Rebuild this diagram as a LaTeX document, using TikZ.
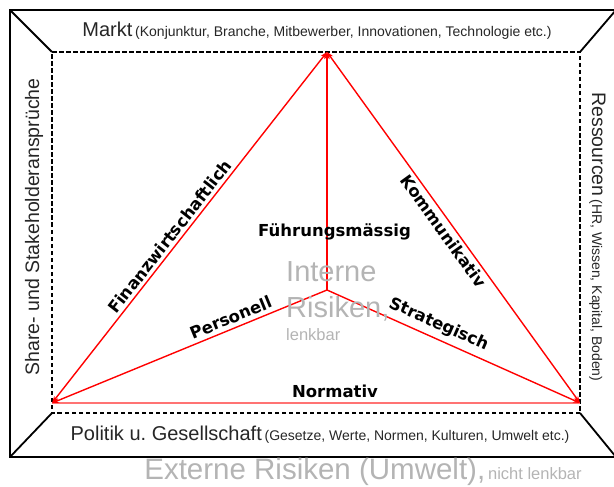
\documentclass[tikz,border=0pt]{standalone}
\usepackage{fontspec}
\setmainfont{Liberation Sans}
\newfontfamily\labfont{DejaVu Sans}
\usetikzlibrary{arrows.meta}
\definecolor{softgray}{RGB}{180,180,180}
\frenchspacing
\begin{document}
\begin{tikzpicture}[x=1pt,y=-1pt,
  frame/.style={line width=1.8pt, black},
  inner/.style={line width=1.4pt, black, dash pattern=on 4.5pt off 2.5pt},
  redline/.style={line width=1.4pt, red},
  normline/.style={line width=1.3pt, red!55},
  tip/.style={-{Stealth[length=7pt,width=5pt]}},
  lab/.style={font=\labfont\bfseries\fontsize{16.5}{18}\selectfont, inner sep=1pt, text=black},
  sidetxt/.style={text=black!85, inner sep=0pt},
]
\useasboundingbox (0,0) rectangle (614,487);
% outer frame corners
\coordinate (O1) at (10,10);
\coordinate (O2) at (616,10);
\coordinate (O3) at (616,457);
\coordinate (O4) at (10,457);
% inner dashed frame corners
\coordinate (I1) at (52,52);
\coordinate (I2) at (580,52);
\coordinate (I3) at (580,413);
\coordinate (I4) at (52,413);
\draw[frame] (O1) -- (O2) -- (O3) -- (O4) -- cycle;
\draw[frame] (O1) -- (I1);
\draw[frame] (O2) -- (I2);
\draw[frame] (O3) -- (I3);
\draw[frame] (O4) -- (I4);
\draw[inner] (I1) -- (I2) -- (I3) -- (I4) -- cycle;

% triangle
\coordinate (T) at (327,52);
\coordinate (BL) at (52,403);
\coordinate (BR) at (580,403);
\coordinate (C) at (327,290);

\draw[normline] (BL) -- (BR);
\draw[redline, {Stealth[length=7pt,width=5pt]}-{Stealth[length=7pt,width=5pt]}] (BL) -- node[lab, sloped, above=2pt, pos=0.457] (fin) {Finanzwirtschaftlich} (T);
\draw[redline, {Stealth[length=7pt,width=5pt]}-{Stealth[length=7pt,width=5pt]}] (BR) -- node[lab, sloped, below=2pt, pos=0.506] (kom) {Kommunikativ} (T);
\draw[redline, tip] (C) -- (T);
\draw[redline, {Stealth[length=7pt,width=5pt]}-] (BL) -- node[lab, sloped, above=3pt, pos=0.665] (pers) {Personell} (C);
\draw[redline, tip] (C) -- node[lab, sloped, above=4pt, pos=0.419] (strat) {Strategisch} (BR);

\node[lab, anchor=base] (fuehr) at (334.5,236) {Führungsmässig};
\node[lab, anchor=base] (norm) at (335,397) {Normativ};

% internal risks
\node[anchor=base west, inner sep=0pt, text=softgray, font=\fontsize{29}{30}\selectfont] (int1) at (286,281) {Interne};
\node[anchor=base west, inner sep=0pt, text=softgray, font=\fontsize{29}{30}\selectfont] (int2) at (286,317) {Risiken,};
\node[anchor=base west, inner sep=0pt, text=softgray, font=\fontsize{16.5}{18}\selectfont] (int3) at (286,340) {lenkbar};

% side texts
\node[sidetxt, anchor=base] (markt) at (317,37) {{\fontsize{20}{22}\selectfont Markt} {\fontsize{14}{16}\selectfont (Konjunktur, Branche, Mitbewerber, Innovationen, Technologie etc.)}};
\node[sidetxt, anchor=base] (politik) at (320,440) {{\fontsize{20}{22}\selectfont Politik u. Gesellschaft} {\fontsize{14}{16}\selectfont (Gesetze, Werte, Normen, Kulturen, Umwelt etc.)}};
\node[sidetxt, anchor=base, rotate=90] (share) at (39,227) {\fontsize{19.5}{22}\selectfont Share- und Stakeholderansprüche};
\node[sidetxt, anchor=base, rotate=-90] (ress) at (592,237) {{\fontsize{19.5}{22}\selectfont Ressourcen} {\fontsize{14}{16}\selectfont (HR, Wissen, Kapital, Boden)}};

\node[inner sep=0pt, anchor=base, text=softgray] (ext) at (363,479) {{\fontsize{29.5}{30}\selectfont Externe Risiken (Umwelt),} {\fontsize{16.5}{18}\selectfont nicht lenkbar}};
\end{tikzpicture}
\end{document}
